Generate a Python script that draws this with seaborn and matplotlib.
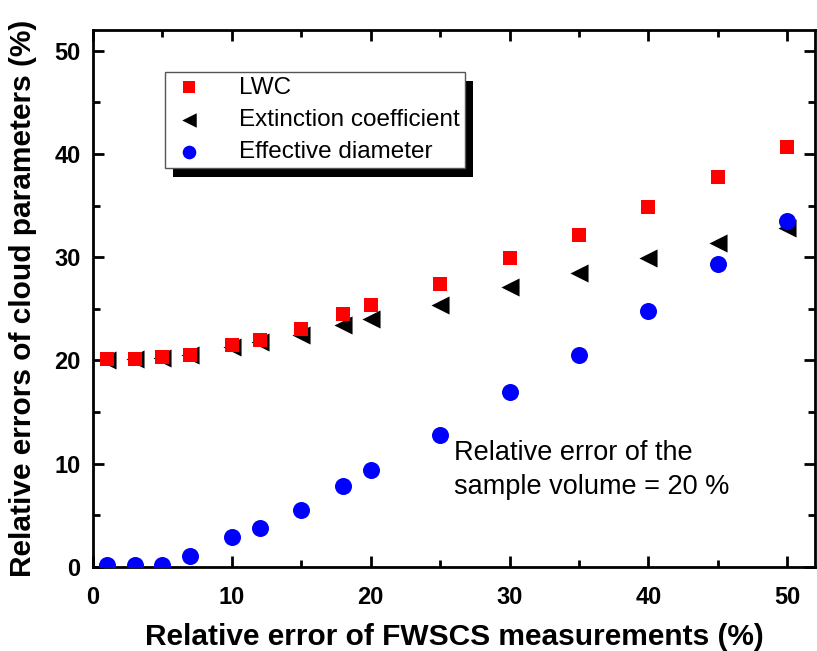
import matplotlib
matplotlib.use('Agg')
import matplotlib.pyplot as plt
import seaborn as sns
from matplotlib.patches import Rectangle
from matplotlib.ticker import MultipleLocator

# Values
x_err = [1, 3, 5, 7, 10, 12, 15, 18, 20, 25, 30, 35, 40, 45, 50]
lwc = [20.1, 20.1, 20.3, 20.5, 21.5, 22.0, 23.0, 24.5, 25.4, 27.4, 29.9, 32.1, 34.9, 37.8, 40.7]
extinction = [20.0, 20.1, 20.2, 20.5, 21.3, 21.8, 22.5, 23.4, 24.0, 25.4, 27.1, 28.5, 29.9, 31.4, 32.8]
eff_diam = [0.2, 0.2, 0.2, 1.1, 2.9, 3.8, 5.5, 7.85, 9.4, 12.8, 16.9, 20.5, 24.8, 29.3, 33.5]

sns.set_style('ticks')
plt.rcParams['font.family'] = ['Liberation Sans', 'DejaVu Sans']
for key in ['text.color', 'axes.labelcolor', 'xtick.color', 'ytick.color', 'axes.edgecolor']:
    plt.rcParams[key] = 'black'

fig, ax = plt.subplots(figsize=(8.17, 6.51), dpi=100)
fig.subplots_adjust(left=0.1138, right=0.9976, top=0.954, bottom=0.129)

sns.scatterplot(x=x_err, y=lwc, marker='s', color='#ff0000', s=110, linewidth=0,
                label='LWC', ax=ax, zorder=3)
sns.scatterplot(x=x_err, y=extinction, marker='<', color='black', s=170, linewidth=0,
                label='Extinction coefficient', ax=ax, zorder=2)
sns.scatterplot(x=x_err, y=eff_diam, marker='o', color='#0000ff', s=150, linewidth=0,
                label='Effective diameter', ax=ax, zorder=3)

ax.set_xlim(0, 52)
ax.set_ylim(0, 52)
ax.xaxis.set_major_locator(MultipleLocator(10))
ax.xaxis.set_minor_locator(MultipleLocator(5))
ax.yaxis.set_major_locator(MultipleLocator(10))
ax.yaxis.set_minor_locator(MultipleLocator(5))
ax.tick_params(which='both', direction='in', top=True, right=True, width=2,
               labeltop=False, labelright=False)
ax.tick_params(which='major', length=8)
ax.tick_params(which='minor', length=5)
ax.tick_params(axis='x', pad=14)
ax.tick_params(axis='y', pad=9)
for lab in ax.get_xticklabels() + ax.get_yticklabels():
    lab.set_fontweight('bold')
    lab.set_fontsize(17)
    lab.set_family(['Liberation Sans Narrow', 'Liberation Sans'])
for sp in ax.spines.values():
    sp.set_linewidth(2)
    sp.set_visible(True)

ax.set_xlabel('Relative error of FWSCS measurements (%)', fontsize=21.5, fontweight='bold')
ax.set_ylabel('Relative errors of cloud parameters (%)', fontsize=21.5, fontweight='bold')
ax.yaxis.set_label_coords(-0.077, 0.5)
ax.xaxis.set_label_coords(0.5, -0.105)

ax.text(26.0, 9.4, 'Relative error of the\nsample volume = 20 %', fontsize=19.5,
        va='center', ha='left', linespacing=1.4)

leg = ax.legend(loc='upper left', bbox_to_anchor=(0.0997, 0.922), fontsize=17.5,
                frameon=True, fancybox=False, edgecolor='#555555', framealpha=1,
                borderpad=0.2, handletextpad=1.25, labelspacing=0.42,
                borderaxespad=0, handlelength=1.6, markerscale=0.8)
leg.get_frame().set_linewidth(1)
leg.set_zorder(5)

# black drop shadow behind the legend box
fig.canvas.draw()
bb = leg.get_window_extent()
shadow = Rectangle((bb.x0 + 8, bb.y0 - 9), bb.width, bb.height, transform=None,
                   facecolor='black', edgecolor='none', zorder=4)
ax.add_artist(shadow)

fig.savefig('out.png', dpi=100)
